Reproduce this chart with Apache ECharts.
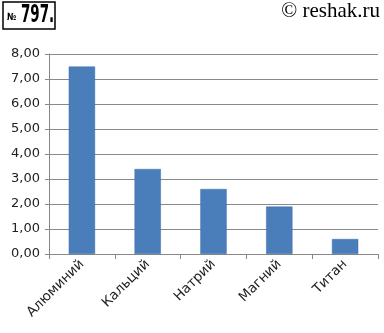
<!DOCTYPE html>
<html><head><meta charset="utf-8">
<script src="https://cdn.jsdelivr.net/npm/echarts@6/dist/echarts.min.js"></script>
<style>html,body{margin:0;padding:0;background:#fff}#c{width:384px;height:333px}</style>
</head><body><div id="c"></div>
<script>
const categories = ['Алюминий', 'Кальций', 'Натрий', 'Магний', 'Титан'];
const values = [7.5, 3.4, 2.6, 1.9, 0.6];
const yMin = 0, yMax = 8, yStep = 1;

const chart = echarts.init(document.getElementById('c'));
chart.setOption({
  animation: false,
  backgroundColor: '#fff',
  grid: {left: 49, right: 6, top: 54, bottom: 79},
  graphic: [
    {type: 'rect', x: 3, y: 2, shape: {width: 52, height: 27}, style: {fill: '#fff', stroke: '#000', lineWidth: 1.5}},
    {type: 'text', x: 7, y: 12, scaleX: 0.75, style: {text: '№', font: 'bold 10px "DejaVu Sans", sans-serif', fill: '#000', verticalAlign: 'top'}},
    {type: 'text', x: 21, y: 4, scaleX: 0.56, style: {text: '797.', font: 'bold 24px "DejaVu Sans", sans-serif', fill: '#000', verticalAlign: 'top'}},
    {type: 'text', right: 4, top: 1, style: {text: '© reshak.ru', font: '21px "Liberation Serif", "DejaVu Serif", serif', fill: '#000'}}
  ],
  xAxis: {
    type: 'category', data: categories,
    axisLine: {lineStyle: {color: '#888', width: 1}},
    axisTick: {show: true, length: 5, lineStyle: {color: '#888'}},
    axisLabel: {rotate: 45, interval: 0, color: '#222', fontSize: 13.5, fontFamily: '"DejaVu Sans", sans-serif', margin: 8}
  },
  yAxis: {
    type: 'value', min: yMin, max: yMax, interval: yStep,
    axisLine: {show: true, lineStyle: {color: '#888'}},
    axisTick: {show: true, length: 4, lineStyle: {color: '#888'}},
    splitLine: {lineStyle: {color: '#8a8a8a', width: 1}},
    axisLabel: {color: '#222', fontSize: 13, fontFamily: '"DejaVu Sans", sans-serif', margin: 9,
      formatter: v => v.toFixed(2).replace('.', ',')}
  },
  series: [{
    type: 'bar', data: values, barWidth: '40%',
    itemStyle: {color: '#4a7ebb', borderColor: '#3f6fa8', borderWidth: 0.5}
  }]
});
</script></body></html>
